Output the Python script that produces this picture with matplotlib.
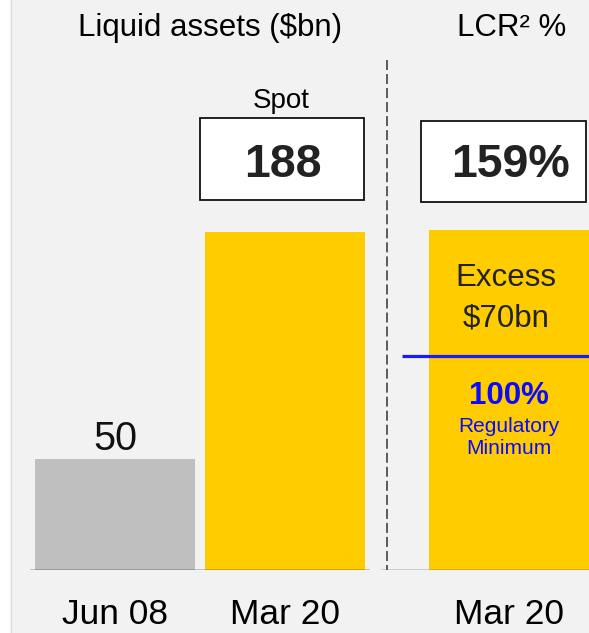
import matplotlib
matplotlib.use("Agg")
import matplotlib.pyplot as plt
from matplotlib.patches import Rectangle
from matplotlib.lines import Line2D

plt.rcParams['font.family'] = ['Liberation Sans', 'DejaVu Sans']
plt.rcParams['lines.scale_dashes'] = False

# ---- data ----
liquid_categories = ["Jun 08", "Mar 20"]
liquid_values = [50, 188]            # $bn labels
liquid_bar_heights = [62, 188]       # drawn heights (not to scale)
liquid_colors = ["#bfbfbf", "#ffcc00"]
lcr_categories = ["Mar 20"]
lcr_values = [159]                   # LCR %
lcr_minimum = 100                    # regulatory minimum %
excess_text = "Excess\n$70bn"

W, H = 589, 633
fig = plt.figure(figsize=(W / 100, H / 100), dpi=100)
fig.patch.set_facecolor("#f2f2f2")

def fx(x):
    return x / W

def fy(y):
    return 1 - y / H

# left white strip
fig.patches.append(Rectangle((0, 0), fx(10), 1, transform=fig.transFigure,
                             facecolor="white", edgecolor="none", zorder=0))
fig.add_artist(Line2D([fx(10.5), fx(10.5)], [0, 1], transform=fig.transFigure,
                      color="#dddddd", lw=0.8))

base_y = 570
top_y = 130
ax_h = (base_y - top_y) / H

# ---- left axes: liquid assets ----
axL = fig.add_axes([fx(30), fy(base_y), fx(370) - fx(30), ax_h])
axL.set_facecolor("none")
xs = list(range(len(liquid_categories)))
axL.bar(xs, liquid_bar_heights, width=160 / 170, color=liquid_colors, zorder=2)
axL.set_xlim(-0.5, 1.5)
axL.set_ylim(0, 440 * liquid_bar_heights[1] / 338)
axL.axhline(0, color="black", lw=1.0, zorder=3)
for s in axL.spines.values():
    s.set_visible(False)
axL.set_xticks(xs)
axL.set_xticklabels(liquid_categories, fontsize=25.5, color="black")
axL.tick_params(axis="x", length=0, pad=20)
axL.set_yticks([])
axL.text(xs[0], liquid_bar_heights[0] + 5, str(liquid_values[0]), ha="center",
         va="baseline", fontsize=28.5, color="#111111")

# ---- right axes: LCR ----
axR = fig.add_axes([fx(381), fy(base_y), fx(589) - fx(381), ax_h])
axR.set_facecolor("none")
axR.bar([0], lcr_values, width=160 / 170, color="#ffcc00", zorder=2)
axR.set_xlim(-(509 - 381) / 170, (589 - 509) / 170)
axR.set_ylim(0, 440 * lcr_values[0] / 340)
axR.axhline(0, color="#444444", lw=1.0, zorder=3)
axR.plot([(402 - 509) / 170, (589 - 509) / 170], [lcr_minimum, lcr_minimum],
         color="#1a1aff", lw=2.3, zorder=4, solid_capstyle="butt", clip_on=False)
for s in axR.spines.values():
    s.set_visible(False)
axR.set_xticks([0])
axR.set_xticklabels(lcr_categories, fontsize=25.5, color="black")
axR.tick_params(axis="x", length=0, pad=20)
axR.set_yticks([])

# ---- headings ----
fig.text(fx(210), fy(36), "Liquid assets ($bn)", ha="center", va="baseline",
         fontsize=22.5, color="black")
fig.text(fx(512), fy(36), "LCR\u00b2 %", ha="center", va="baseline",
         fontsize=22.5, color="black")

# dashed divider
fig.add_artist(Line2D([fx(387), fx(387)], [fy(60), fy(570)], transform=fig.transFigure,
                      color="#333333", lw=1.1, dashes=(7.2, 2.9)))

# boxes
def box(x0, y0, x1, y1):
    fig.patches.append(Rectangle((fx(x0), fy(y1)), fx(x1) - fx(x0), fy(y0) - fy(y1),
                                 transform=fig.transFigure, facecolor="white",
                                 edgecolor="#111111", lw=1.3, zorder=5))

box(200, 118, 364, 200)
box(421, 121, 586, 202)
fig.text(fx(281), fy(108), "Spot", ha="center", va="baseline", fontsize=20, color="black")
fig.text(fx(283), fy(160), str(liquid_values[1]), ha="center", va="center_baseline",
         fontsize=33.5, fontweight="bold", color="#222222", zorder=6)
fig.text(fx(510), fy(160), f"{lcr_values[0]}%", ha="center", va="center_baseline",
         fontsize=33.5, fontweight="bold", color="#222222", zorder=6)

# texts inside LCR bar
fig.text(fx(506), fy(275), excess_text.split("\n")[0], ha="center", va="center_baseline",
         fontsize=22.5, color="#222222")
fig.text(fx(506), fy(315), excess_text.split("\n")[1], ha="center", va="center_baseline",
         fontsize=22.5, color="#222222")
fig.text(fx(509), fy(393), f"{lcr_minimum}%", ha="center", va="center_baseline",
         fontsize=22.5, fontweight="bold", color="#0a0aff")
fig.text(fx(509), fy(424), "Regulatory", ha="center", va="center_baseline",
         fontsize=15, color="#0a0aff")
fig.text(fx(509), fy(447), "Minimum", ha="center", va="center_baseline",
         fontsize=15, color="#0a0aff")

fig.savefig("out.png", dpi=100, facecolor=fig.get_facecolor())
